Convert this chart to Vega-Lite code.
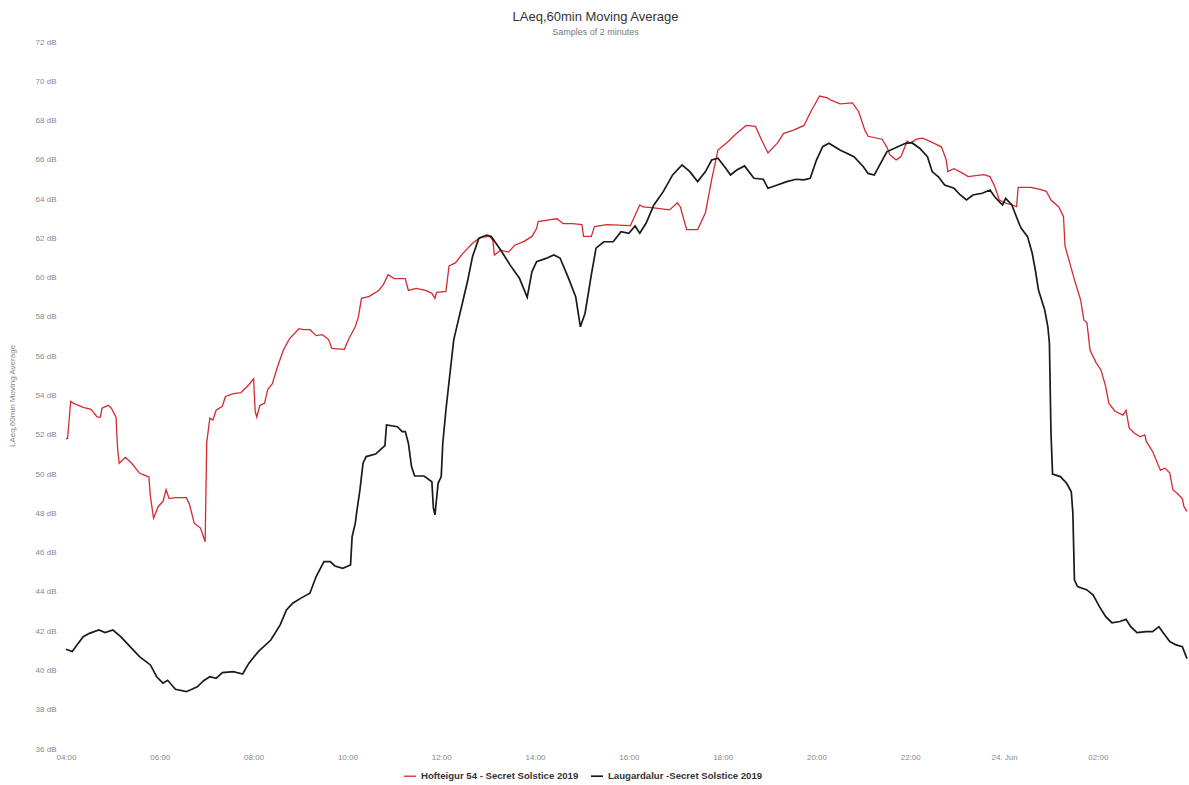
{
  "$schema": "https://vega.github.io/schema/vega-lite/v6.json",
  "width": 1121,
  "height": 707,
  "autosize": "none",
  "padding": {"left": 66, "top": 42, "right": 2, "bottom": 36},
  "background": "white",
  "config": {"view": {"stroke": null}},
  "title": {
    "text": "LAeq,60min Moving Average",
    "subtitle": "Samples of 2 minutes",
    "anchor": "middle",
    "dx": -31,
    "offset": 1,
    "font": "Liberation Sans",
    "fontSize": 13,
    "fontWeight": "normal",
    "color": "#333333",
    "subtitleFont": "Liberation Sans",
    "subtitleFontSize": 9,
    "subtitleColor": "#777777",
    "subtitlePadding": 4
  },
  "data": {"values": [
    {"s": "H", "t": "2019-06-23T04:00", "v": 51.8}, {"s": "H", "t": "2019-06-23T04:02", "v": 51.8}, {"s": "H", "t": "2019-06-23T04:06", "v": 53.7}, {"s": "H", "t": "2019-06-23T04:10", "v": 53.6},
    {"s": "H", "t": "2019-06-23T04:22", "v": 53.4}, {"s": "H", "t": "2019-06-23T04:32", "v": 53.3}, {"s": "H", "t": "2019-06-23T04:40", "v": 52.9}, {"s": "H", "t": "2019-06-23T04:44", "v": 52.9},
    {"s": "H", "t": "2019-06-23T04:46", "v": 53.35}, {"s": "H", "t": "2019-06-23T04:54", "v": 53.5}, {"s": "H", "t": "2019-06-23T04:58", "v": 53.35}, {"s": "H", "t": "2019-06-23T05:04", "v": 52.9},
    {"s": "H", "t": "2019-06-23T05:06", "v": 51.3}, {"s": "H", "t": "2019-06-23T05:08", "v": 50.55}, {"s": "H", "t": "2019-06-23T05:16", "v": 50.85}, {"s": "H", "t": "2019-06-23T05:24", "v": 50.55},
    {"s": "H", "t": "2019-06-23T05:34", "v": 50.05}, {"s": "H", "t": "2019-06-23T05:40", "v": 49.95}, {"s": "H", "t": "2019-06-23T05:46", "v": 49.85}, {"s": "H", "t": "2019-06-23T05:48", "v": 48.85},
    {"s": "H", "t": "2019-06-23T05:52", "v": 47.75}, {"s": "H", "t": "2019-06-23T05:58", "v": 48.35}, {"s": "H", "t": "2019-06-23T06:04", "v": 48.6}, {"s": "H", "t": "2019-06-23T06:08", "v": 49.2},
    {"s": "H", "t": "2019-06-23T06:12", "v": 48.75}, {"s": "H", "t": "2019-06-23T06:20", "v": 48.8}, {"s": "H", "t": "2019-06-23T06:34", "v": 48.8}, {"s": "H", "t": "2019-06-23T06:38", "v": 48.45},
    {"s": "H", "t": "2019-06-23T06:44", "v": 47.5}, {"s": "H", "t": "2019-06-23T06:52", "v": 47.25}, {"s": "H", "t": "2019-06-23T06:58", "v": 46.55}, {"s": "H", "t": "2019-06-23T07:00", "v": 51.6},
    {"s": "H", "t": "2019-06-23T07:04", "v": 52.85}, {"s": "H", "t": "2019-06-23T07:08", "v": 52.75}, {"s": "H", "t": "2019-06-23T07:12", "v": 53.25}, {"s": "H", "t": "2019-06-23T07:20", "v": 53.45},
    {"s": "H", "t": "2019-06-23T07:24", "v": 53.95}, {"s": "H", "t": "2019-06-23T07:34", "v": 54.1}, {"s": "H", "t": "2019-06-23T07:44", "v": 54.15}, {"s": "H", "t": "2019-06-23T07:54", "v": 54.55},
    {"s": "H", "t": "2019-06-23T08:00", "v": 54.85}, {"s": "H", "t": "2019-06-23T08:02", "v": 53.2}, {"s": "H", "t": "2019-06-23T08:04", "v": 52.9}, {"s": "H", "t": "2019-06-23T08:08", "v": 53.5},
    {"s": "H", "t": "2019-06-23T08:14", "v": 53.6}, {"s": "H", "t": "2019-06-23T08:18", "v": 54.3}, {"s": "H", "t": "2019-06-23T08:24", "v": 54.6}, {"s": "H", "t": "2019-06-23T08:30", "v": 55.4},
    {"s": "H", "t": "2019-06-23T08:38", "v": 56.3}, {"s": "H", "t": "2019-06-23T08:46", "v": 56.9}, {"s": "H", "t": "2019-06-23T08:58", "v": 57.4}, {"s": "H", "t": "2019-06-23T09:04", "v": 57.35},
    {"s": "H", "t": "2019-06-23T09:12", "v": 57.35}, {"s": "H", "t": "2019-06-23T09:20", "v": 57.05}, {"s": "H", "t": "2019-06-23T09:28", "v": 57.1}, {"s": "H", "t": "2019-06-23T09:36", "v": 56.85},
    {"s": "H", "t": "2019-06-23T09:40", "v": 56.4}, {"s": "H", "t": "2019-06-23T09:56", "v": 56.35}, {"s": "H", "t": "2019-06-23T10:02", "v": 56.9}, {"s": "H", "t": "2019-06-23T10:10", "v": 57.5},
    {"s": "H", "t": "2019-06-23T10:14", "v": 58.0}, {"s": "H", "t": "2019-06-23T10:18", "v": 58.95}, {"s": "H", "t": "2019-06-23T10:28", "v": 59.05}, {"s": "H", "t": "2019-06-23T10:40", "v": 59.35},
    {"s": "H", "t": "2019-06-23T10:46", "v": 59.65}, {"s": "H", "t": "2019-06-23T10:52", "v": 60.15}, {"s": "H", "t": "2019-06-23T11:00", "v": 59.95}, {"s": "H", "t": "2019-06-23T11:14", "v": 59.95},
    {"s": "H", "t": "2019-06-23T11:18", "v": 59.35}, {"s": "H", "t": "2019-06-23T11:28", "v": 59.45}, {"s": "H", "t": "2019-06-23T11:40", "v": 59.35}, {"s": "H", "t": "2019-06-23T11:48", "v": 59.2},
    {"s": "H", "t": "2019-06-23T11:52", "v": 58.95}, {"s": "H", "t": "2019-06-23T11:54", "v": 59.25}, {"s": "H", "t": "2019-06-23T12:06", "v": 59.3}, {"s": "H", "t": "2019-06-23T12:10", "v": 60.6},
    {"s": "H", "t": "2019-06-23T12:18", "v": 60.75}, {"s": "H", "t": "2019-06-23T12:28", "v": 61.25}, {"s": "H", "t": "2019-06-23T12:40", "v": 61.75}, {"s": "H", "t": "2019-06-23T12:50", "v": 62.05},
    {"s": "H", "t": "2019-06-23T13:02", "v": 62.1}, {"s": "H", "t": "2019-06-23T13:06", "v": 61.9}, {"s": "H", "t": "2019-06-23T13:08", "v": 61.15}, {"s": "H", "t": "2019-06-23T13:16", "v": 61.4},
    {"s": "H", "t": "2019-06-23T13:26", "v": 61.3}, {"s": "H", "t": "2019-06-23T13:34", "v": 61.65}, {"s": "H", "t": "2019-06-23T13:46", "v": 61.85}, {"s": "H", "t": "2019-06-23T13:56", "v": 62.1},
    {"s": "H", "t": "2019-06-23T14:02", "v": 62.5}, {"s": "H", "t": "2019-06-23T14:04", "v": 62.85}, {"s": "H", "t": "2019-06-23T14:20", "v": 62.95}, {"s": "H", "t": "2019-06-23T14:28", "v": 63.0},
    {"s": "H", "t": "2019-06-23T14:36", "v": 62.75}, {"s": "H", "t": "2019-06-23T14:48", "v": 62.75}, {"s": "H", "t": "2019-06-23T15:00", "v": 62.7}, {"s": "H", "t": "2019-06-23T15:02", "v": 62.1},
    {"s": "H", "t": "2019-06-23T15:12", "v": 62.1}, {"s": "H", "t": "2019-06-23T15:16", "v": 62.6}, {"s": "H", "t": "2019-06-23T15:32", "v": 62.7}, {"s": "H", "t": "2019-06-23T16:02", "v": 62.65},
    {"s": "H", "t": "2019-06-23T16:06", "v": 63.0}, {"s": "H", "t": "2019-06-23T16:14", "v": 63.7}, {"s": "H", "t": "2019-06-23T16:18", "v": 63.6}, {"s": "H", "t": "2019-06-23T16:32", "v": 63.55},
    {"s": "H", "t": "2019-06-23T16:52", "v": 63.45}, {"s": "H", "t": "2019-06-23T17:02", "v": 63.8}, {"s": "H", "t": "2019-06-23T17:06", "v": 63.6}, {"s": "H", "t": "2019-06-23T17:10", "v": 63.0},
    {"s": "H", "t": "2019-06-23T17:14", "v": 62.45}, {"s": "H", "t": "2019-06-23T17:28", "v": 62.45}, {"s": "H", "t": "2019-06-23T17:38", "v": 63.3}, {"s": "H", "t": "2019-06-23T17:46", "v": 65.0},
    {"s": "H", "t": "2019-06-23T17:54", "v": 66.5}, {"s": "H", "t": "2019-06-23T18:06", "v": 66.9}, {"s": "H", "t": "2019-06-23T18:18", "v": 67.35}, {"s": "H", "t": "2019-06-23T18:30", "v": 67.75},
    {"s": "H", "t": "2019-06-23T18:42", "v": 67.7}, {"s": "H", "t": "2019-06-23T18:50", "v": 67.0}, {"s": "H", "t": "2019-06-23T18:58", "v": 66.35}, {"s": "H", "t": "2019-06-23T19:10", "v": 66.85},
    {"s": "H", "t": "2019-06-23T19:18", "v": 67.35}, {"s": "H", "t": "2019-06-23T19:30", "v": 67.5}, {"s": "H", "t": "2019-06-23T19:44", "v": 67.75}, {"s": "H", "t": "2019-06-23T19:54", "v": 68.55},
    {"s": "H", "t": "2019-06-23T20:04", "v": 69.25}, {"s": "H", "t": "2019-06-23T20:14", "v": 69.15}, {"s": "H", "t": "2019-06-23T20:18", "v": 69.05}, {"s": "H", "t": "2019-06-23T20:30", "v": 68.85},
    {"s": "H", "t": "2019-06-23T20:46", "v": 68.9}, {"s": "H", "t": "2019-06-23T20:54", "v": 68.45}, {"s": "H", "t": "2019-06-23T21:02", "v": 67.5}, {"s": "H", "t": "2019-06-23T21:06", "v": 67.2},
    {"s": "H", "t": "2019-06-23T21:24", "v": 67.05}, {"s": "H", "t": "2019-06-23T21:30", "v": 66.65}, {"s": "H", "t": "2019-06-23T21:34", "v": 66.25}, {"s": "H", "t": "2019-06-23T21:42", "v": 66.0},
    {"s": "H", "t": "2019-06-23T21:48", "v": 66.15}, {"s": "H", "t": "2019-06-23T21:54", "v": 66.75}, {"s": "H", "t": "2019-06-23T21:56", "v": 66.95}, {"s": "H", "t": "2019-06-23T22:00", "v": 66.85},
    {"s": "H", "t": "2019-06-23T22:08", "v": 67.05}, {"s": "H", "t": "2019-06-23T22:16", "v": 67.1}, {"s": "H", "t": "2019-06-23T22:30", "v": 66.85}, {"s": "H", "t": "2019-06-23T22:40", "v": 66.65},
    {"s": "H", "t": "2019-06-23T22:46", "v": 66.0}, {"s": "H", "t": "2019-06-23T22:48", "v": 65.4}, {"s": "H", "t": "2019-06-23T22:56", "v": 65.55}, {"s": "H", "t": "2019-06-23T23:08", "v": 65.3},
    {"s": "H", "t": "2019-06-23T23:14", "v": 65.15}, {"s": "H", "t": "2019-06-23T23:34", "v": 65.25}, {"s": "H", "t": "2019-06-23T23:42", "v": 65.15}, {"s": "H", "t": "2019-06-23T23:48", "v": 64.65},
    {"s": "H", "t": "2019-06-23T23:54", "v": 63.95}, {"s": "H", "t": "2019-06-24T00:02", "v": 63.8}, {"s": "H", "t": "2019-06-24T00:10", "v": 63.7}, {"s": "H", "t": "2019-06-24T00:16", "v": 63.62},
    {"s": "H", "t": "2019-06-24T00:18", "v": 64.6}, {"s": "H", "t": "2019-06-24T00:34", "v": 64.6}, {"s": "H", "t": "2019-06-24T00:46", "v": 64.5}, {"s": "H", "t": "2019-06-24T00:54", "v": 64.4},
    {"s": "H", "t": "2019-06-24T01:00", "v": 63.95}, {"s": "H", "t": "2019-06-24T01:10", "v": 63.6}, {"s": "H", "t": "2019-06-24T01:16", "v": 63.1}, {"s": "H", "t": "2019-06-24T01:18", "v": 61.6},
    {"s": "H", "t": "2019-06-24T01:24", "v": 60.75}, {"s": "H", "t": "2019-06-24T01:30", "v": 59.9}, {"s": "H", "t": "2019-06-24T01:38", "v": 58.85}, {"s": "H", "t": "2019-06-24T01:42", "v": 57.85},
    {"s": "H", "t": "2019-06-24T01:46", "v": 57.7}, {"s": "H", "t": "2019-06-24T01:50", "v": 56.3}, {"s": "H", "t": "2019-06-24T01:58", "v": 55.65}, {"s": "H", "t": "2019-06-24T02:04", "v": 55.3},
    {"s": "H", "t": "2019-06-24T02:10", "v": 54.45}, {"s": "H", "t": "2019-06-24T02:14", "v": 53.6}, {"s": "H", "t": "2019-06-24T02:22", "v": 53.2}, {"s": "H", "t": "2019-06-24T02:32", "v": 53.0},
    {"s": "H", "t": "2019-06-24T02:36", "v": 53.25}, {"s": "H", "t": "2019-06-24T02:40", "v": 52.35}, {"s": "H", "t": "2019-06-24T02:46", "v": 52.1}, {"s": "H", "t": "2019-06-24T02:54", "v": 51.9},
    {"s": "H", "t": "2019-06-24T03:00", "v": 52.0}, {"s": "H", "t": "2019-06-24T03:02", "v": 51.65}, {"s": "H", "t": "2019-06-24T03:10", "v": 51.15}, {"s": "H", "t": "2019-06-24T03:20", "v": 50.2},
    {"s": "H", "t": "2019-06-24T03:26", "v": 50.3}, {"s": "H", "t": "2019-06-24T03:32", "v": 50.05}, {"s": "H", "t": "2019-06-24T03:36", "v": 49.2}, {"s": "H", "t": "2019-06-24T03:42", "v": 49.0},
    {"s": "H", "t": "2019-06-24T03:48", "v": 48.75}, {"s": "H", "t": "2019-06-24T03:50", "v": 48.35}, {"s": "H", "t": "2019-06-24T03:54", "v": 48.1},
    {"s": "L", "t": "2019-06-23T04:00", "v": 41.08}, {"s": "L", "t": "2019-06-23T04:08", "v": 40.96}, {"s": "L", "t": "2019-06-23T04:14", "v": 41.3}, {"s": "L", "t": "2019-06-23T04:22", "v": 41.72},
    {"s": "L", "t": "2019-06-23T04:30", "v": 41.89}, {"s": "L", "t": "2019-06-23T04:42", "v": 42.06}, {"s": "L", "t": "2019-06-23T04:50", "v": 41.93}, {"s": "L", "t": "2019-06-23T05:00", "v": 42.06},
    {"s": "L", "t": "2019-06-23T05:10", "v": 41.72}, {"s": "L", "t": "2019-06-23T05:22", "v": 41.21}, {"s": "L", "t": "2019-06-23T05:34", "v": 40.7}, {"s": "L", "t": "2019-06-23T05:48", "v": 40.28},
    {"s": "L", "t": "2019-06-23T05:56", "v": 39.68}, {"s": "L", "t": "2019-06-23T06:04", "v": 39.35}, {"s": "L", "t": "2019-06-23T06:10", "v": 39.5}, {"s": "L", "t": "2019-06-23T06:20", "v": 39.04},
    {"s": "L", "t": "2019-06-23T06:34", "v": 38.92}, {"s": "L", "t": "2019-06-23T06:48", "v": 39.17}, {"s": "L", "t": "2019-06-23T06:56", "v": 39.48}, {"s": "L", "t": "2019-06-23T07:04", "v": 39.68},
    {"s": "L", "t": "2019-06-23T07:12", "v": 39.6}, {"s": "L", "t": "2019-06-23T07:20", "v": 39.89}, {"s": "L", "t": "2019-06-23T07:34", "v": 39.94}, {"s": "L", "t": "2019-06-23T07:46", "v": 39.82},
    {"s": "L", "t": "2019-06-23T07:54", "v": 40.37}, {"s": "L", "t": "2019-06-23T08:06", "v": 40.96}, {"s": "L", "t": "2019-06-23T08:08", "v": 41.04}, {"s": "L", "t": "2019-06-23T08:22", "v": 41.55},
    {"s": "L", "t": "2019-06-23T08:34", "v": 42.32}, {"s": "L", "t": "2019-06-23T08:42", "v": 43.08}, {"s": "L", "t": "2019-06-23T08:50", "v": 43.42}, {"s": "L", "t": "2019-06-23T09:00", "v": 43.67},
    {"s": "L", "t": "2019-06-23T09:12", "v": 43.93}, {"s": "L", "t": "2019-06-23T09:20", "v": 44.78}, {"s": "L", "t": "2019-06-23T09:30", "v": 45.54}, {"s": "L", "t": "2019-06-23T09:38", "v": 45.54},
    {"s": "L", "t": "2019-06-23T09:44", "v": 45.32}, {"s": "L", "t": "2019-06-23T09:54", "v": 45.2}, {"s": "L", "t": "2019-06-23T10:04", "v": 45.37}, {"s": "L", "t": "2019-06-23T10:06", "v": 46.81},
    {"s": "L", "t": "2019-06-23T10:10", "v": 47.49}, {"s": "L", "t": "2019-06-23T10:12", "v": 48.09}, {"s": "L", "t": "2019-06-23T10:16", "v": 49.19}, {"s": "L", "t": "2019-06-23T10:20", "v": 50.55},
    {"s": "L", "t": "2019-06-23T10:24", "v": 50.89}, {"s": "L", "t": "2019-06-23T10:36", "v": 51.02}, {"s": "L", "t": "2019-06-23T10:44", "v": 51.31}, {"s": "L", "t": "2019-06-23T10:48", "v": 51.45},
    {"s": "L", "t": "2019-06-23T10:50", "v": 52.5}, {"s": "L", "t": "2019-06-23T11:04", "v": 52.41}, {"s": "L", "t": "2019-06-23T11:10", "v": 52.16}, {"s": "L", "t": "2019-06-23T11:14", "v": 52.16},
    {"s": "L", "t": "2019-06-23T11:18", "v": 51.57}, {"s": "L", "t": "2019-06-23T11:22", "v": 50.38}, {"s": "L", "t": "2019-06-23T11:26", "v": 49.9}, {"s": "L", "t": "2019-06-23T11:38", "v": 49.9},
    {"s": "L", "t": "2019-06-23T11:48", "v": 49.61}, {"s": "L", "t": "2019-06-23T11:50", "v": 48.26}, {"s": "L", "t": "2019-06-23T11:52", "v": 47.92}, {"s": "L", "t": "2019-06-23T11:56", "v": 49.53},
    {"s": "L", "t": "2019-06-23T12:00", "v": 49.87}, {"s": "L", "t": "2019-06-23T12:02", "v": 51.57}, {"s": "L", "t": "2019-06-23T12:06", "v": 53.26}, {"s": "L", "t": "2019-06-23T12:10", "v": 54.7},
    {"s": "L", "t": "2019-06-23T12:16", "v": 56.83}, {"s": "L", "t": "2019-06-23T12:22", "v": 57.85}, {"s": "L", "t": "2019-06-23T12:28", "v": 58.86}, {"s": "L", "t": "2019-06-23T12:34", "v": 59.88},
    {"s": "L", "t": "2019-06-23T12:40", "v": 61.07}, {"s": "L", "t": "2019-06-23T12:48", "v": 62.0}, {"s": "L", "t": "2019-06-23T12:58", "v": 62.17}, {"s": "L", "t": "2019-06-23T13:04", "v": 62.1},
    {"s": "L", "t": "2019-06-23T13:16", "v": 61.41}, {"s": "L", "t": "2019-06-23T13:28", "v": 60.65}, {"s": "L", "t": "2019-06-23T13:40", "v": 59.97}, {"s": "L", "t": "2019-06-23T13:50", "v": 59.0},
    {"s": "L", "t": "2019-06-23T13:56", "v": 60.3}, {"s": "L", "t": "2019-06-23T14:02", "v": 60.81}, {"s": "L", "t": "2019-06-23T14:14", "v": 60.98}, {"s": "L", "t": "2019-06-23T14:24", "v": 61.16},
    {"s": "L", "t": "2019-06-23T14:32", "v": 61.0}, {"s": "L", "t": "2019-06-23T14:42", "v": 60.05}, {"s": "L", "t": "2019-06-23T14:52", "v": 59.03}, {"s": "L", "t": "2019-06-23T14:58", "v": 57.5},
    {"s": "L", "t": "2019-06-23T15:04", "v": 58.19}, {"s": "L", "t": "2019-06-23T15:12", "v": 60.14}, {"s": "L", "t": "2019-06-23T15:18", "v": 61.5}, {"s": "L", "t": "2019-06-23T15:28", "v": 61.83},
    {"s": "L", "t": "2019-06-23T15:40", "v": 61.83}, {"s": "L", "t": "2019-06-23T15:50", "v": 62.34}, {"s": "L", "t": "2019-06-23T16:00", "v": 62.26}, {"s": "L", "t": "2019-06-23T16:08", "v": 62.63},
    {"s": "L", "t": "2019-06-23T16:14", "v": 62.26}, {"s": "L", "t": "2019-06-23T16:22", "v": 62.77}, {"s": "L", "t": "2019-06-23T16:32", "v": 63.7}, {"s": "L", "t": "2019-06-23T16:44", "v": 64.38},
    {"s": "L", "t": "2019-06-23T16:56", "v": 65.23}, {"s": "L", "t": "2019-06-23T17:08", "v": 65.74}, {"s": "L", "t": "2019-06-23T17:18", "v": 65.4}, {"s": "L", "t": "2019-06-23T17:28", "v": 64.89},
    {"s": "L", "t": "2019-06-23T17:38", "v": 65.4}, {"s": "L", "t": "2019-06-23T17:46", "v": 65.99}, {"s": "L", "t": "2019-06-23T17:54", "v": 66.08}, {"s": "L", "t": "2019-06-23T18:04", "v": 65.57},
    {"s": "L", "t": "2019-06-23T18:10", "v": 65.23}, {"s": "L", "t": "2019-06-23T18:18", "v": 65.48}, {"s": "L", "t": "2019-06-23T18:28", "v": 65.69}, {"s": "L", "t": "2019-06-23T18:40", "v": 65.06},
    {"s": "L", "t": "2019-06-23T18:52", "v": 65.01}, {"s": "L", "t": "2019-06-23T18:58", "v": 64.55}, {"s": "L", "t": "2019-06-23T19:10", "v": 64.72}, {"s": "L", "t": "2019-06-23T19:22", "v": 64.89},
    {"s": "L", "t": "2019-06-23T19:34", "v": 65.01}, {"s": "L", "t": "2019-06-23T19:44", "v": 64.98}, {"s": "L", "t": "2019-06-23T19:52", "v": 65.06}, {"s": "L", "t": "2019-06-23T20:00", "v": 65.99},
    {"s": "L", "t": "2019-06-23T20:08", "v": 66.67}, {"s": "L", "t": "2019-06-23T20:16", "v": 66.84}, {"s": "L", "t": "2019-06-23T20:30", "v": 66.5}, {"s": "L", "t": "2019-06-23T20:48", "v": 66.16},
    {"s": "L", "t": "2019-06-23T21:00", "v": 65.65}, {"s": "L", "t": "2019-06-23T21:06", "v": 65.31}, {"s": "L", "t": "2019-06-23T21:14", "v": 65.23}, {"s": "L", "t": "2019-06-23T21:22", "v": 65.82},
    {"s": "L", "t": "2019-06-23T21:30", "v": 66.41}, {"s": "L", "t": "2019-06-23T21:44", "v": 66.67}, {"s": "L", "t": "2019-06-23T21:54", "v": 66.84}, {"s": "L", "t": "2019-06-23T22:02", "v": 66.87},
    {"s": "L", "t": "2019-06-23T22:12", "v": 66.59}, {"s": "L", "t": "2019-06-23T22:22", "v": 66.16}, {"s": "L", "t": "2019-06-23T22:28", "v": 65.4}, {"s": "L", "t": "2019-06-23T22:36", "v": 65.14},
    {"s": "L", "t": "2019-06-23T22:44", "v": 64.72}, {"s": "L", "t": "2019-06-23T22:56", "v": 64.55}, {"s": "L", "t": "2019-06-23T23:04", "v": 64.21}, {"s": "L", "t": "2019-06-23T23:12", "v": 63.96},
    {"s": "L", "t": "2019-06-23T23:20", "v": 64.21}, {"s": "L", "t": "2019-06-23T23:32", "v": 64.3}, {"s": "L", "t": "2019-06-23T23:42", "v": 64.46}, {"s": "L", "t": "2019-06-23T23:48", "v": 64.12},
    {"s": "L", "t": "2019-06-23T23:58", "v": 63.7}, {"s": "L", "t": "2019-06-24T00:02", "v": 64.04}, {"s": "L", "t": "2019-06-24T00:10", "v": 63.7}, {"s": "L", "t": "2019-06-24T00:14", "v": 63.28},
    {"s": "L", "t": "2019-06-24T00:20", "v": 62.68}, {"s": "L", "t": "2019-06-24T00:22", "v": 62.51}, {"s": "L", "t": "2019-06-24T00:30", "v": 62.09}, {"s": "L", "t": "2019-06-24T00:36", "v": 61.24},
    {"s": "L", "t": "2019-06-24T00:40", "v": 60.39}, {"s": "L", "t": "2019-06-24T00:44", "v": 59.37}, {"s": "L", "t": "2019-06-24T00:48", "v": 58.86}, {"s": "L", "t": "2019-06-24T00:52", "v": 58.35},
    {"s": "L", "t": "2019-06-24T00:56", "v": 57.5}, {"s": "L", "t": "2019-06-24T00:58", "v": 56.66}, {"s": "L", "t": "2019-06-24T01:00", "v": 52.1}, {"s": "L", "t": "2019-06-24T01:02", "v": 50.0},
    {"s": "L", "t": "2019-06-24T01:12", "v": 49.87}, {"s": "L", "t": "2019-06-24T01:20", "v": 49.53}, {"s": "L", "t": "2019-06-24T01:26", "v": 49.1}, {"s": "L", "t": "2019-06-24T01:28", "v": 48.0},
    {"s": "L", "t": "2019-06-24T01:30", "v": 44.6}, {"s": "L", "t": "2019-06-24T01:34", "v": 44.27}, {"s": "L", "t": "2019-06-24T01:46", "v": 44.1}, {"s": "L", "t": "2019-06-24T01:54", "v": 43.84},
    {"s": "L", "t": "2019-06-24T02:02", "v": 43.25}, {"s": "L", "t": "2019-06-24T02:10", "v": 42.74}, {"s": "L", "t": "2019-06-24T02:18", "v": 42.43}, {"s": "L", "t": "2019-06-24T02:28", "v": 42.49},
    {"s": "L", "t": "2019-06-24T02:36", "v": 42.6}, {"s": "L", "t": "2019-06-24T02:42", "v": 42.23}, {"s": "L", "t": "2019-06-24T02:50", "v": 41.93}, {"s": "L", "t": "2019-06-24T03:02", "v": 41.98},
    {"s": "L", "t": "2019-06-24T03:10", "v": 41.98}, {"s": "L", "t": "2019-06-24T03:18", "v": 42.23}, {"s": "L", "t": "2019-06-24T03:24", "v": 41.89}, {"s": "L", "t": "2019-06-24T03:32", "v": 41.47},
    {"s": "L", "t": "2019-06-24T03:40", "v": 41.3}, {"s": "L", "t": "2019-06-24T03:48", "v": 41.21}, {"s": "L", "t": "2019-06-24T03:54", "v": 40.6}
  ]},
  "mark": {"type": "line"},
  "encoding": {
    "x": {
      "field": "t",
      "type": "temporal",
      "scale": {
        "domain": [
          {"year": 2019, "month": 6, "date": 23, "hours": 4, "minutes": 0},
          {"year": 2019, "month": 6, "date": 24, "hours": 3, "minutes": 54}
        ]
      },
      "axis": {
        "title": null,
        "grid": false,
        "domain": false,
        "ticks": false,
        "values": [
          {"year": 2019, "month": 6, "date": 23, "hours": 4},
          {"year": 2019, "month": 6, "date": 23, "hours": 6},
          {"year": 2019, "month": 6, "date": 23, "hours": 8},
          {"year": 2019, "month": 6, "date": 23, "hours": 10},
          {"year": 2019, "month": 6, "date": 23, "hours": 12},
          {"year": 2019, "month": 6, "date": 23, "hours": 14},
          {"year": 2019, "month": 6, "date": 23, "hours": 16},
          {"year": 2019, "month": 6, "date": 23, "hours": 18},
          {"year": 2019, "month": 6, "date": 23, "hours": 20},
          {"year": 2019, "month": 6, "date": 23, "hours": 22},
          {"year": 2019, "month": 6, "date": 24, "hours": 0},
          {"year": 2019, "month": 6, "date": 24, "hours": 2}
        ],
        "format": "%H:%M",
        "labelExpr": "datum.label == '00:00' ? '24. Jun' : datum.label",
        "labelFlush": false,
        "labelFont": "Liberation Sans",
        "labelFontSize": 8,
        "labelColor": "#888888",
        "labelPadding": 4
      }
    },
    "y": {
      "field": "v",
      "type": "quantitative",
      "scale": {"domain": [36, 72], "nice": false, "zero": false},
      "axis": {
        "title": "LAeq,60min Moving Average",
        "titleFont": "Liberation Sans",
        "titleFontSize": 8,
        "titleFontWeight": "normal",
        "titleColor": "#888888",
        "titlePadding": 19,
        "grid": false,
        "domain": false,
        "ticks": false,
        "values": [36, 38, 40, 42, 44, 46, 48, 50, 52, 54, 56, 58, 60, 62, 64, 66, 68, 70, 72],
        "labelExpr": "datum.value + ' dB'",
        "labelFont": "Liberation Sans",
        "labelFontSize": 8,
        "labelColor": "#888888",
        "labelPadding": 10
      }
    },
    "strokeWidth": {
      "field": "s",
      "type": "nominal",
      "scale": {"domain": ["H", "L"], "range": [1.3, 1.7]},
      "legend": null
    },
    "color": {
      "field": "s",
      "type": "nominal",
      "scale": {"domain": ["H", "L"], "range": ["#d42a32", "#1a1a1a"]},
      "legend": {
        "title": null,
        "orient": "none",
        "legendX": 337,
        "legendY": 727,
        "direction": "horizontal",
        "labelExpr": "datum.value == 'H' ? 'Hofteigur 54 - Secret Solstice 2019' : 'Laugardalur -Secret Solstice 2019'",
        "symbolType": "stroke",
        "symbolSize": 144,
        "symbolStrokeWidth": 1.5,
        "labelFont": "Liberation Sans",
        "labelFontSize": 9.6,
        "labelFontWeight": "bold",
        "labelColor": "#333333",
        "columnPadding": 8,
        "labelOffset": 4
      }
    }
  }
}
